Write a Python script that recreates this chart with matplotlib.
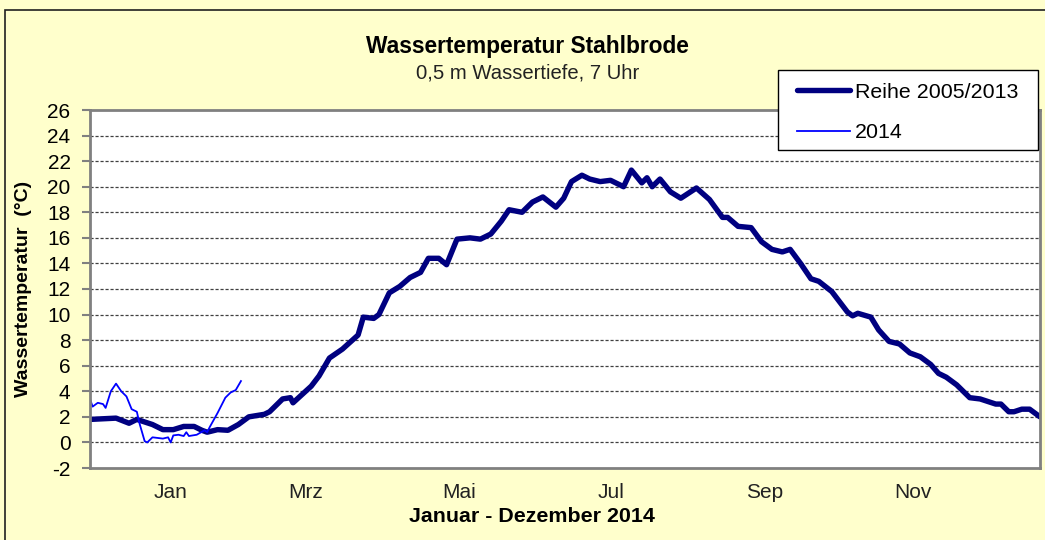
import numpy as np
import matplotlib
matplotlib.use('Agg')
import matplotlib.pyplot as plt
from matplotlib.patches import Rectangle

plt.rcParams['font.family'] = ['Liberation Sans', 'DejaVu Sans']
plt.rcParams['axes.unicode_minus'] = False

# day of year / temperature
days_mean = [0, 10, 15, 18, 24, 28, 32, 36, 40, 43, 45, 49, 53, 57, 61, 67, 69, 74, 77, 78,
             85, 88, 92, 97, 103, 105, 109, 111, 115, 119, 123, 127, 130, 134, 137, 141,
             146, 150, 154, 158, 161, 166, 170, 174, 179, 182, 185, 189, 192, 196, 200,
             205, 208, 212, 214, 216, 219, 223, 227, 230, 233, 238, 243, 245, 249, 254,
             258, 262, 266, 269, 273, 277, 280, 285, 288, 291, 293, 295, 300, 303, 307,
             311, 315, 319, 323, 326, 329, 333, 338, 342, 345, 348, 350, 353, 355, 358,
             361, 365]
temp_mean = [1.8, 1.9, 1.5, 1.8, 1.4, 1.0, 1.0, 1.25, 1.25, 0.95, 0.8, 1.0, 0.95, 1.4, 2.0,
             2.2, 2.4, 3.4, 3.5, 3.1, 4.4, 5.2, 6.6, 7.3, 8.4, 9.8, 9.7, 10.0, 11.7, 12.2,
             12.9, 13.3, 14.4, 14.4, 13.9, 15.9, 16.0, 15.9, 16.3, 17.3, 18.2, 18.0, 18.8,
             19.2, 18.4, 19.1, 20.4, 20.9, 20.6, 20.4, 20.5, 20.0, 21.3, 20.3, 20.7, 20.0,
             20.6, 19.6, 19.1, 19.5, 19.9, 19.0, 17.6, 17.6, 16.9, 16.8, 15.7, 15.1, 14.9,
             15.1, 14.0, 12.8, 12.6, 11.8, 11.0, 10.2, 9.9, 10.1, 9.8, 8.8, 7.9, 7.7, 7.0,
             6.7, 6.1, 5.4, 5.1, 4.5, 3.5, 3.4, 3.2, 3.0, 3.0, 2.4, 2.4, 2.6, 2.6, 2.0]

days_2014 = [0, 1, 3, 5, 6, 8, 10, 12, 14, 16, 18, 19, 21, 22, 24, 28, 30, 31, 32, 34, 36,
             37, 38, 41, 44, 45, 46, 49, 52, 54, 56, 58]
temp_2014 = [3.4, 2.8, 3.1, 3.0, 2.7, 4.0, 4.6, 4.0, 3.6, 2.6, 2.4, 1.5, 0.1, 0.0, 0.4, 0.3,
             0.4, 0.0, 0.55, 0.6, 0.5, 0.8, 0.5, 0.6, 0.95, 0.8, 1.2, 2.3, 3.5, 3.9, 4.1, 4.8]

month_labels = ['Jan', 'Mrz', 'Mai', 'Jul', 'Sep', 'Nov']
month_pos = [31, 83, 142, 200, 259, 316]

fig = plt.figure(figsize=(10.45, 5.4), dpi=100)
fig.patch.set_facecolor('#FFFFCC')
# outer chart frame (right and bottom edges run off the picture)
fig.patches.append(Rectangle((5 / 1045, -0.05), 1.1, 1.05 - 10 / 540,
                             transform=fig.transFigure, fill=False,
                             edgecolor='#202020', linewidth=1.2))

ax = fig.add_axes([90 / 1045, 1 - 468 / 540, 950 / 1045, 358 / 540])
ax.set_facecolor('white')

ax.plot(days_mean, temp_mean, color='#000080', linewidth=3.9,
        solid_capstyle='round', solid_joinstyle='round', label='Reihe 2005/2013')
ax.plot(days_2014, temp_2014, color='#0000FF', linewidth=1.3, label='2014')

ax.set_xlim(0, 365)
ax.set_ylim(-2, 26)
ax.set_yticks(np.arange(-2, 27, 2))
ax.set_xticks(month_pos)
ax.set_xticklabels(month_labels)
ax.tick_params(axis='x', length=0, labelsize=15, pad=11, colors='#222222')
ax.tick_params(axis='y', length=6, width=1.5, color='#808080', labelsize=15, pad=8)
for lbl in ax.get_yticklabels():
    lbl.set_color('black')
for t in range(0, 26, 2):
    ax.axhline(t, color='#404040', linewidth=0.9, linestyle=(0, (2.5, 1.5)), zorder=0)

for s in ax.spines.values():
    s.set_color('#808080')
    s.set_linewidth(2)

ax.set_ylabel('Wassertemperatur  (°C)', fontsize=14, fontweight='bold')
ax.yaxis.set_label_coords((24 - 90) / 950, 0.5)
ax.yaxis.label.set_va('center')
ax.set_xlabel('Januar - Dezember 2014', fontsize=15.4, fontweight='bold')
ax.xaxis.set_label_coords((532 - 90) / 950, (468 - 516) / 358)
ax.xaxis.label.set_va('center')

fig.text(527 / 1045, 1 - 47 / 540, 'Wassertemperatur Stahlbrode', fontsize=16.4,
         fontweight='bold', ha='center', va='center')
fig.text(528 / 1045, 1 - 73 / 540, '0,5 m Wassertiefe, 7 Uhr', fontsize=14.6,
         ha='center', va='center', color='#222222')

# legend box drawn separately so its padding can match the original
fig.patches.append(Rectangle((778 / 1045, 1 - 150 / 540), 260 / 1045, 80 / 540,
                             transform=fig.transFigure, facecolor='white',
                             edgecolor='black', linewidth=1.0, zorder=5))
leg = fig.legend(loc='upper left', bbox_to_anchor=(784 / 1045, 1 - 70 / 540),
                 fontsize=15.4, frameon=False,
                 handlelength=2.5, handletextpad=0.2, labelspacing=0.99,
                 borderpad=0.6, borderaxespad=0)
leg.set_zorder(6)

fig.savefig('out.png', dpi=100, facecolor=fig.get_facecolor())
